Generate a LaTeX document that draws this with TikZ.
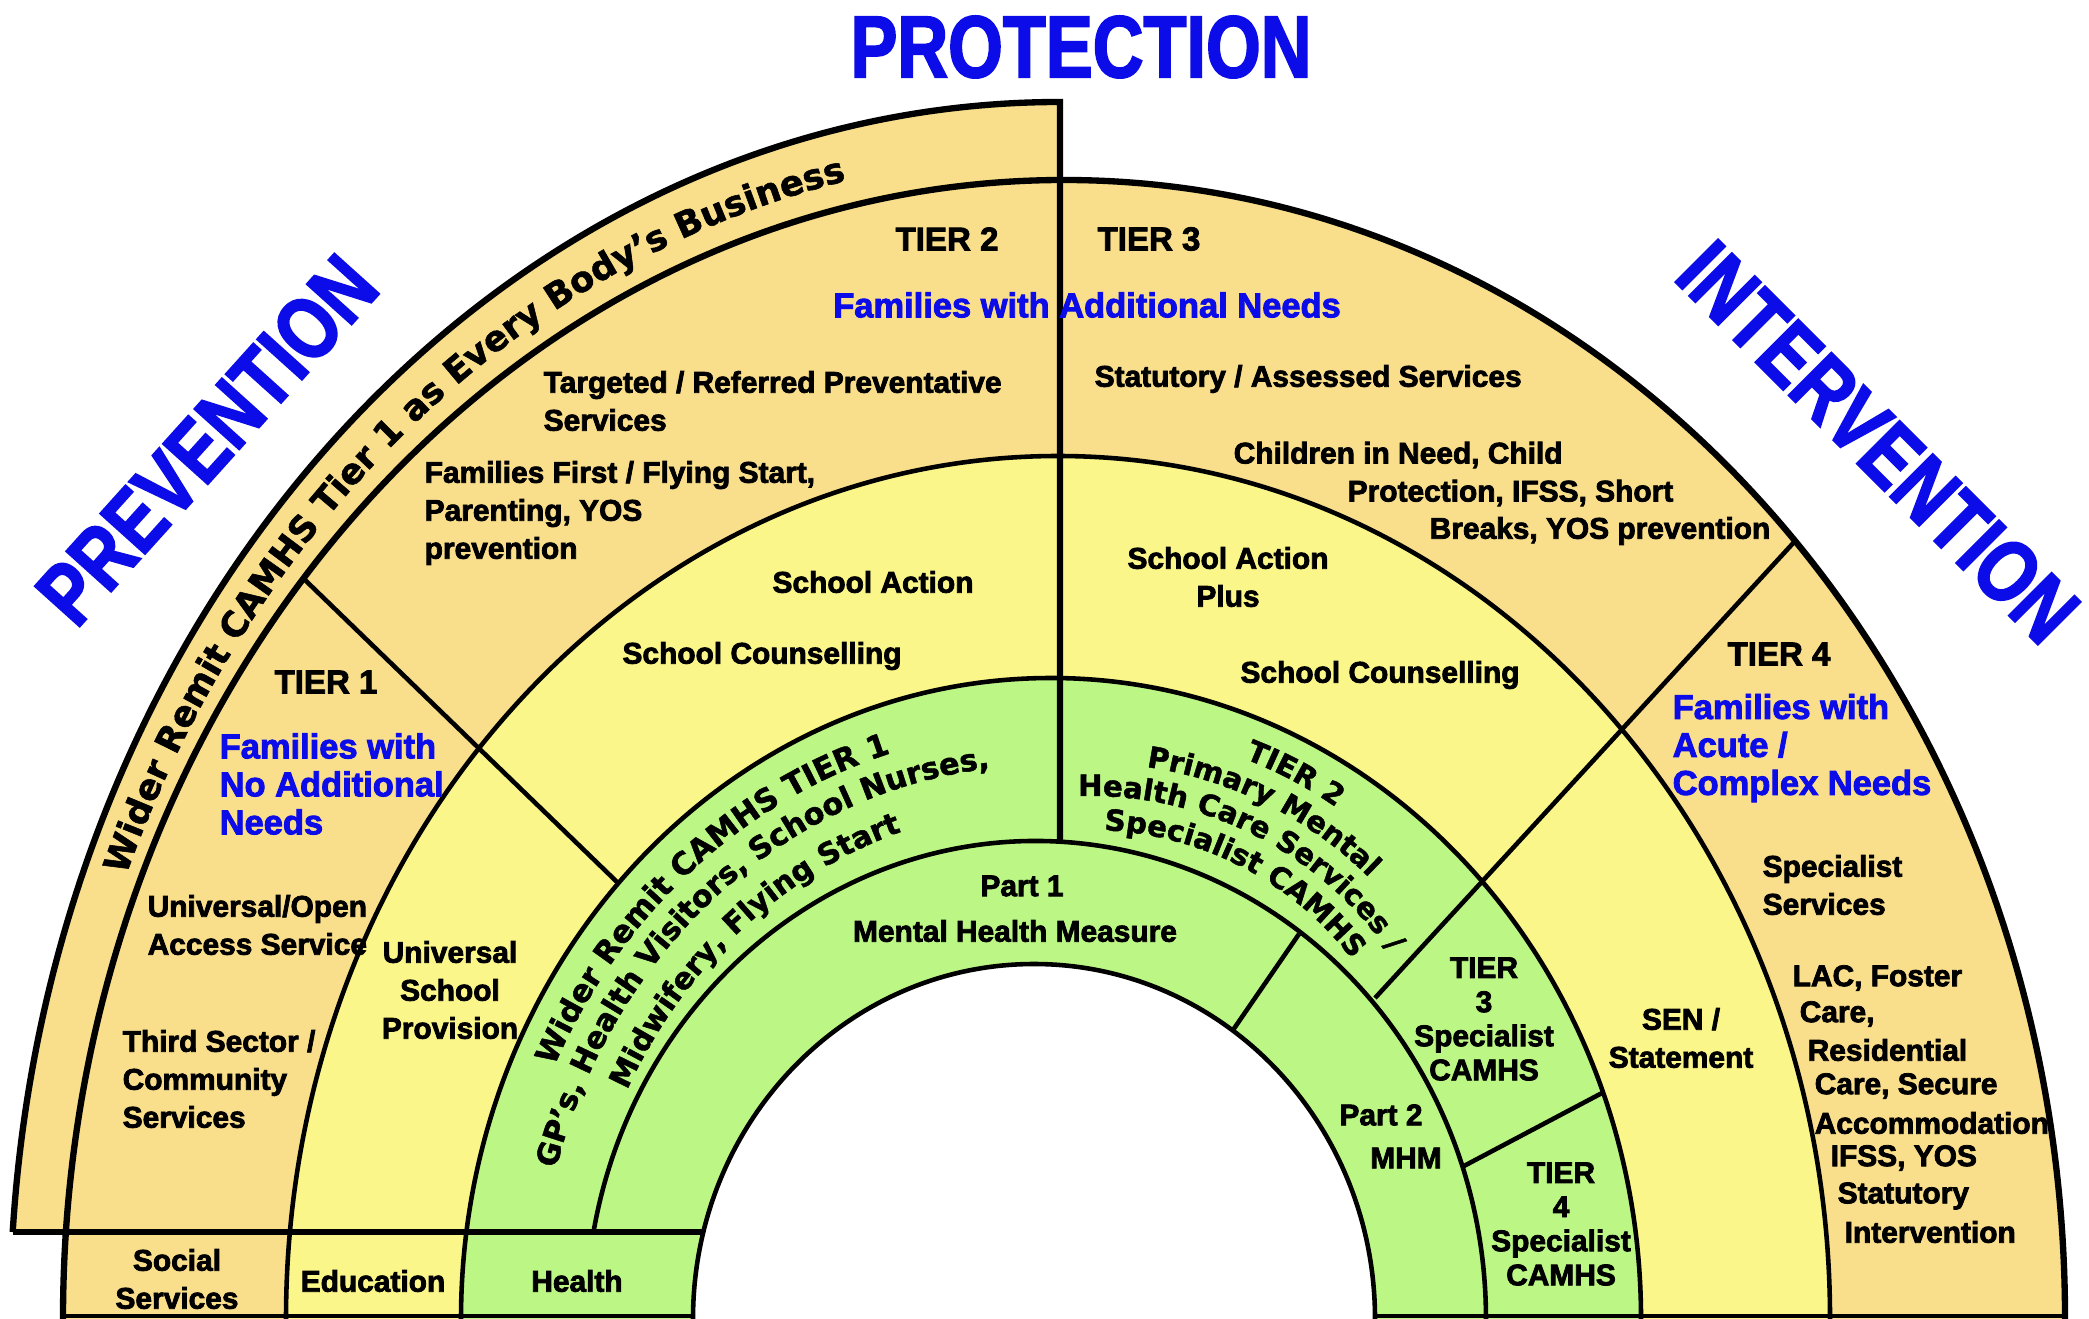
\documentclass[tikz,border=0pt]{standalone}
\usepackage{fontspec}
\setmainfont[BoldFeatures={FakeBold=2.6}]{Liberation Sans}
\newfontfamily\titlefont[FakeStretch=0.8, BoldFeatures={FakeBold=2}]{Liberation Sans}
\newfontfamily\curvefont[BoldFeatures={FakeBold=1.5}]{DejaVu Sans}
\usetikzlibrary{decorations.text}

\definecolor{bandorange}{RGB}{249,222,140}
\definecolor{bandyellow}{RGB}{251,246,138}
\definecolor{bandgreen}{RGB}{188,247,134}
\definecolor{headblue}{RGB}{12,12,232}

\newcommand{\curvesize}[1]{\curvefont\bfseries\fontsize{#1}{#1}\selectfont}

\tikzset{
  ringline/.style={line width=1.3pt},
  rimline/.style={line width=1.8pt},
  lbl/.style={font=\bfseries\fontsize{8.5}{10.8}\selectfont, inner sep=0pt, align=center},
  lbll/.style={lbl, align=left, anchor=west},
  camhslbl/.style={lbl, font=\bfseries\fontsize{8.5}{9.7}\selectfont},
  tierlbl/.style={font=\bfseries\fontsize{9.4}{11}\selectfont, inner sep=0pt},
  famlbl/.style={font=\bfseries\fontsize{9.8}{10.8}\selectfont, text=headblue, inner sep=0pt, align=left},
  headlbl/.style={font=\titlefont\bfseries\fontsize{25}{30}\selectfont, text=headblue, inner sep=0pt},
  curved/.style={decorate, decoration={text along path, text align=center, text={#1}}}
}

\begin{document}
\begin{tikzpicture}[x=0.01cm,y=-0.01cm]
  \useasboundingbox (0,0) rectangle (2089,1319);

  % Wider Remit band, left quarter only
  \begin{scope}
    \clip (0,0) rectangle (1060,1232);
    \fill[bandorange] (1060,1319) ellipse [x radius=1050, y radius=1217];
  \end{scope}
  % Tier bands, outer to inner, then the hole
  \foreach \cx/\ra/\rb/\col in {1064/1001/1139/bandorange, 1058/772/863/bandyellow,
      1051/590/641/bandgreen, 1034/341/355/white}
    \fill[\col] (\cx,1319) ellipse [x radius=\ra, y radius=\rb];

  % Rims
  \draw[rimline] (12.7,1232) arc[start angle=184.1, end angle=270, x radius=1050, y radius=1217]
    -- (1060,842);
  \draw[rimline] (63,1319) arc[start angle=180, end angle=360, x radius=1001, y radius=1139];
  \foreach \cx/\ra/\rb in {1058/772/863, 1051/590/641, 1034/341/355}
    \draw[ringline] ({\cx-\ra},1319) arc[start angle=180, end angle=360, x radius=\ra, y radius=\rb];
  \draw[ringline] (593.5,1232) arc[start angle=190.49, end angle=360, x radius=450, y radius=478];
  \draw[rimline] (12.7,1232) -- (703,1232);
  \draw[ringline] (63,1316) -- (693,1316) (1375,1316) -- (2065,1316);

  % Dividers between tiers
  \coordinate (onetwoA) at (304,579);
  \coordinate (onetwoC) at (617,882);
  \coordinate (threefourA) at (1796,540);
  \coordinate (threefourD) at (1375,998);
  \coordinate (partD) at (1299,934);
  \coordinate (partH) at (1233,1030);
  \coordinate (camhsC) at (1602,1093);
  \coordinate (camhsD) at (1462,1167);
  \draw[ringline] (onetwoA) -- (onetwoC);
  \draw[ringline] (threefourA) -- (threefourD);
  \draw[ringline] (partD) -- (partH);
  \draw[ringline] (camhsC) -- (camhsD);

  % Headings
  \node[headlbl] (protection) at (1081,47) {PROTECTION};
  \node[headlbl, rotate=48] (prevention) at (207,440) {PREVENTION};
  \node[headlbl, rotate=-45] (intervention) at (1878,442) {INTERVENTION};

  % Curved texts
  \path[curved={|\curvesize{10}|Wider Remit CAMHS Tier 1 as Every Body’s Business}]
    ({1062+1012*cos(190.8)},{1319+1165*sin(190.8)})
    arc[start angle=190.8, end angle=270.8, x radius=1012, y radius=1165];
  \path[curved={|\curvesize{8.8}|Wider Remit CAMHS TIER 1}]
    ({1045+543*cos(190)},{1319+590*sin(190)})
    arc[start angle=190, end angle=270, x radius=543, y radius=590];
  \path[curved={|\curvesize{8.6}|GP’s, Health Visitors, School Nurses,}]
    ({1045+508*cos(190)},{1319+554*sin(190)})
    arc[start angle=190, end angle=270, x radius=508, y radius=554];
  \path[curved={|\curvesize{8.5}|Midwifery, Flying Start}]
    ({1045+467*cos(190)},{1319+512*sin(190)})
    arc[start angle=190, end angle=270, x radius=467, y radius=512];
  \path[curved={|\curvesize{8.3}|TIER 2}]
    ({1090+430*cos(253)},{1160+430*sin(253)}) arc[start angle=253, end angle=343, radius=430];
  \path[curved={|\curvesize{8.3}|Primary Mental}]
    ({1090+397*cos(251.4)},{1160+397*sin(251.4)}) arc[start angle=251.4, end angle=341.4, radius=397];
  \path[curved={|\curvesize{8.3}|Health Care Services /}]
    ({1090+364*cos(251.75)},{1160+364*sin(251.75)}) arc[start angle=251.75, end angle=341.75, radius=364];
  \path[curved={|\curvesize{8.3}|Specialist CAMHS}]
    ({1090+330*cos(252.5)},{1160+330*sin(252.5)}) arc[start angle=252.5, end angle=342.5, radius=330];

  % Tier 1
  \node[tierlbl] (tierone) at (326,682) {TIER 1};
  \node[famlbl, anchor=west] (famnone) at (219,784) {Families with\\No Additional\\Needs};
  \node[lbll] (universal) at (147,925) {Universal/Open\\Access Service};
  \node[lbll] (thirdsector) at (122,1079) {Third Sector /\\Community\\Services};
  \node[lbl] (unischool) at (450,990) {Universal\\School\\Provision};

  % Tier 2
  \node[tierlbl] (tiertwo) at (947,239) {TIER 2};
  \node[famlbl] (famadd) at (1087,305) {Families with Additional Needs};
  \node[lbll] (targeted) at (543,401) {Targeted / Referred Preventative\\Services};
  \node[lbll] (famfirst) at (424,513) {Families First / Flying Start,\\Parenting, YOS\\prevention};
  \node[lbl] (schoolaction) at (873,582) {School Action};
  \node[lbl] (schoolcouns) at (762,656) {School Counselling};

  % Tier 3
  \node[tierlbl] (tierthree) at (1149,239) {TIER 3};
  \node[lbll] (statutory) at (1094,379) {Statutory / Assessed Services};
  \node[lbll] (cina) at (1233,455) {Children in Need, Child};
  \node[lbll] (cinb) at (1347,493) {Protection, IFSS, Short};
  \node[lbll] (cinc) at (1429,531) {Breaks, YOS prevention};
  \node[lbl] (actionplus) at (1228,577) {School Action\\Plus};
  \node[lbl] (schoolcounsb) at (1380,675) {School Counselling};

  % Tier 4
  \node[tierlbl] (tierfour) at (1779,654) {TIER 4};
  \node[famlbl, anchor=west] (famacute) at (1672,748) {Families with\\Acute /\\Complex Needs};
  \node[lbll] (specserv) at (1762,885) {Specialist\\Services};
  \foreach \xx/\yy/\txt/\nm in {1792/978/{LAC, Foster}/laca, 1799/1014/{Care,}/lacb,
      1807/1050/{Residential}/lacc, 1814/1086/{Care, Secure}/lacd, 1814/1123/{Accommodation}/lace,
      1830/1158/{IFSS, YOS}/lacf, 1837/1196/{Statutory}/lacg, 1844/1232/{Intervention}/lach}
    \node[lbll] (\nm) at (\xx,\yy) {\txt};
  \node[lbl] (sen) at (1681,1038) {SEN /\\Statement};

  % Health band
  \node[lbl] (partone) at (1022,886) {Part 1};
  \node[lbl] (mhmone) at (1015,931) {Mental Health Measure};
  \node[lbl] (parttwo) at (1381,1115) {Part 2};
  \node[lbl] (mhmtwo) at (1406,1158) {MHM};
  \node[camhslbl] (camhsthree) at (1484,1019) {TIER\\3\\Specialist\\CAMHS};
  \node[camhslbl] (camhsfour) at (1561,1224) {TIER\\4\\Specialist\\CAMHS};

  % Service strip
  \node[lbl] (social) at (177,1279) {Social\\Services};
  \node[lbl] (education) at (373,1281) {Education};
  \node[lbl] (health) at (577,1281) {Health};
\end{tikzpicture}
\end{document}
